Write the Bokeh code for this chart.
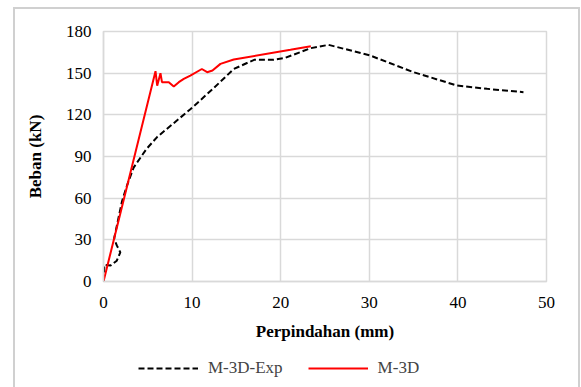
from bokeh.plotting import figure
from bokeh.layouts import column
from bokeh.models import Legend, LegendItem, FixedTicker
from bokeh.embed import file_html
from bokeh.resources import INLINE

exp_x = [0, 0.1, 0.8, 1.5, 1.9, 1.5, 1.2, 2.1, 2.7, 3.4, 4.8, 6.05, 9.8, 12.4, 14.7, 17.0, 19.2, 20.5, 23.4, 25.4, 30.1, 35.0, 39.9, 43.3, 47.4]
exp_y = [0, 12, 11.5, 15, 21, 26, 31, 58, 70, 82, 95, 104, 124, 139, 153, 159.6, 159.6, 161, 168, 170.4, 162.7, 150.7, 141.1, 138.7, 136.3]

sim_x = [0, 5.87, 6.06, 6.43, 6.6, 7.37, 7.93, 8.5, 9.06, 9.8, 11.1, 11.7, 12.3, 13.2, 14.7, 21.1, 23.4]
sim_y = [0, 151.4, 141, 150, 143.5, 143.5, 140.4, 143.5, 145.9, 148.3, 153, 150.7, 151.9, 156.7, 159.8, 166.8, 169.4]

x_ticks = [0, 10, 20, 30, 40, 50]
y_ticks = [0, 30, 60, 90, 120, 150, 180]
series_names = ["M-3D-Exp", "M-3D"]

FONT = "Liberation Serif"
GRID = "#d9d9d9"
DASH = "6 3"

p = figure(width=563, height=344, output_backend="svg", toolbar_location=None,
           x_range=(0, 50), y_range=(0, 180),
           min_border_left=88, min_border_right=32, min_border_top=22, min_border_bottom=72)

p.xaxis.ticker = FixedTicker(ticks=x_ticks)
p.yaxis.ticker = FixedTicker(ticks=y_ticks)
p.xgrid.ticker = FixedTicker(ticks=x_ticks)
p.ygrid.ticker = FixedTicker(ticks=y_ticks)
p.grid.grid_line_color = GRID
p.grid.grid_line_width = 1.5
p.outline_line_color = GRID
p.outline_line_width = 1.5

for ax in (p.xaxis[0], p.yaxis[0]):
    ax.axis_line_color = GRID
    ax.axis_line_width = 1.5
    ax.major_tick_line_color = None
    ax.minor_tick_line_color = None
    ax.major_tick_out = 0
    ax.major_label_text_font = FONT
    ax.major_label_text_font_size = "17px"
    ax.major_label_text_color = "black"
    ax.axis_label_text_font = FONT
    ax.axis_label_text_font_size = "17px"
    ax.axis_label_text_font_style = "bold"
    ax.axis_label_text_color = "black"

p.xaxis.axis_label = "Perpindahan (mm)"
p.yaxis.axis_label = "Beban (kN)"
p.xaxis.major_label_standoff = 15
p.yaxis.major_label_standoff = 12
p.xaxis.axis_label_standoff = 11
p.yaxis.axis_label_standoff = 18

p.line(exp_x, exp_y, line_color="black", line_width=2, line_dash=DASH)
p.line(sim_x, sim_y, line_color="red", line_width=2)

# legend strip below the chart (its lines sit outside its own visible range)
lg = figure(width=563, height=36, output_backend="svg", toolbar_location=None,
            x_range=(-2, -1), y_range=(-2, -1),
            x_axis_location=None, y_axis_location=None,
            min_border_left=0, min_border_right=0, min_border_top=0, min_border_bottom=0)
lg.grid.visible = False
lg.outline_line_color = None
l1 = lg.line(exp_x, exp_y, line_color="black", line_width=2, line_dash=DASH)
l2 = lg.line(sim_x, sim_y, line_color="red", line_width=2)

legend = Legend(items=[LegendItem(label=series_names[0], renderers=[l1]),
                       LegendItem(label=series_names[1], renderers=[l2])],
                orientation="horizontal", location=(35, 11),
                label_text_font=FONT, label_text_font_size="17px",
                glyph_width=60, label_standoff=10, spacing=25,
                padding=0, margin=0,
                border_line_color=None, background_fill_alpha=0)
lg.add_layout(legend, "center")

col = column(p, lg, spacing=0,
             styles={"margin-left": "13px", "margin-top": "7px", "border": "2px solid #d0d0d0"})

open("out.html", "w").write(file_html(col, INLINE))
